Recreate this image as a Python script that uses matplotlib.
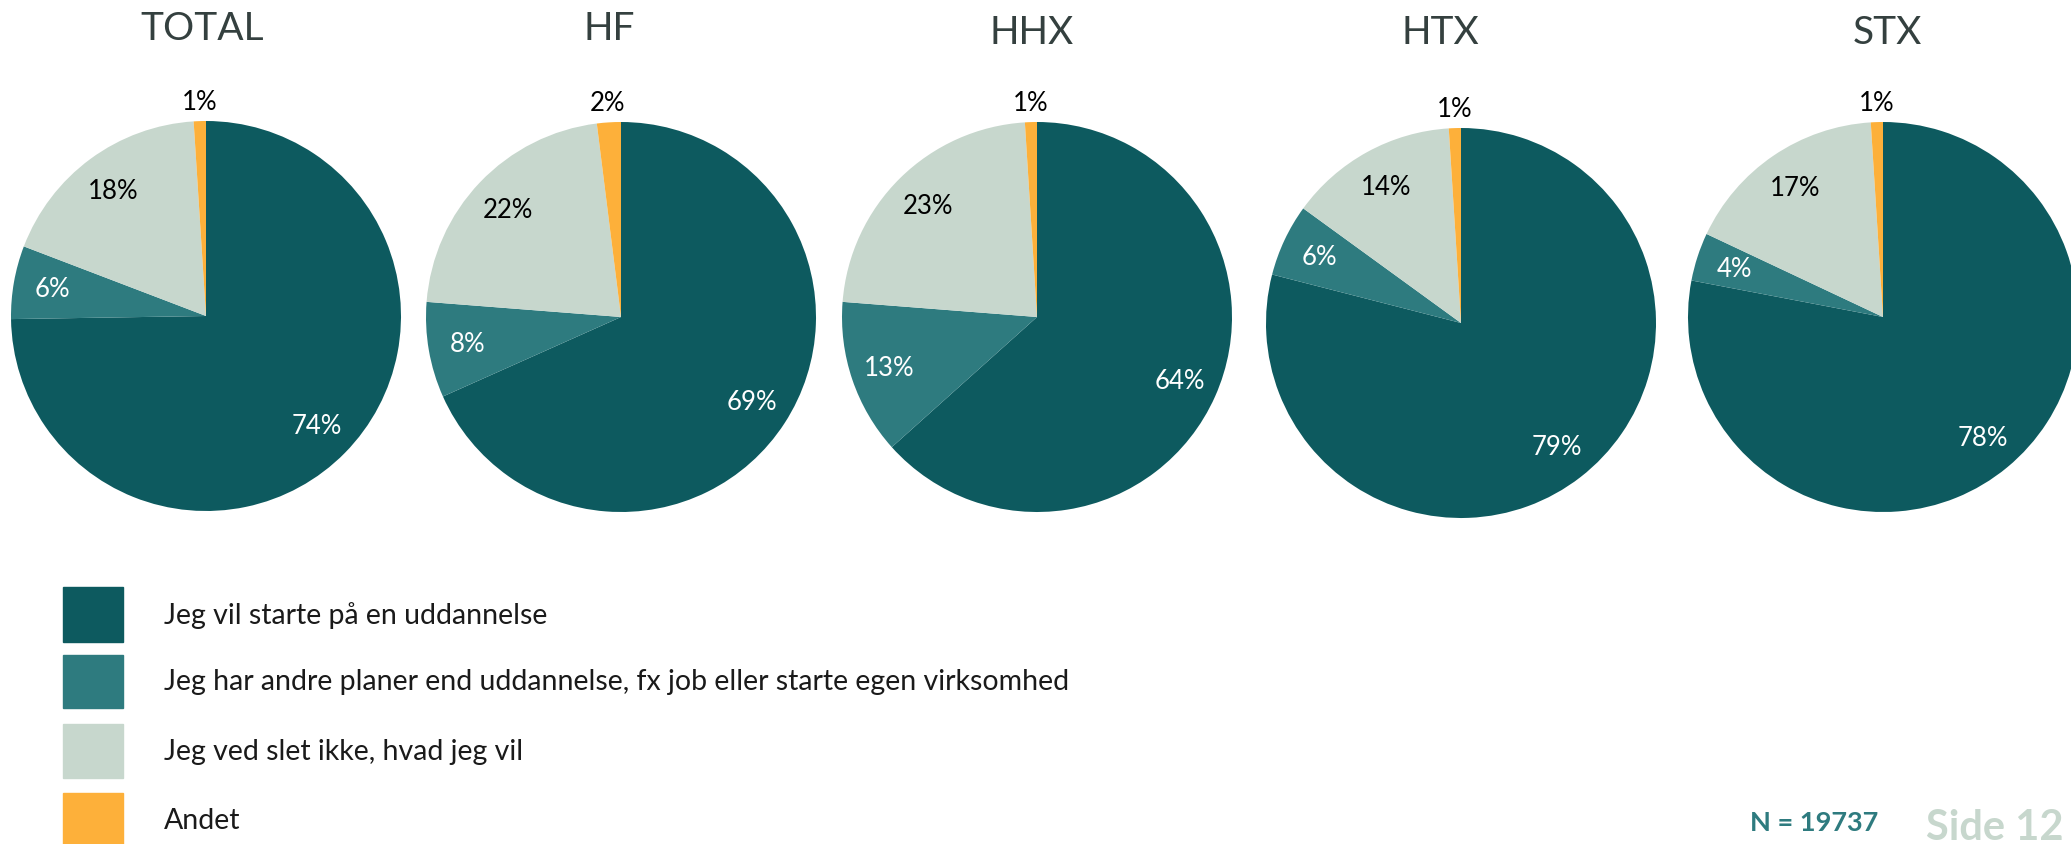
import numpy as np
import matplotlib
matplotlib.use("Agg")
import matplotlib.pyplot as plt

plt.rcParams["font.family"] = ["Lato", "DejaVu Sans"]

groups = ["TOTAL", "HF", "HHX", "HTX", "STX"]
categories = [
    "Jeg vil starte på en uddannelse",
    "Jeg har andre planer end uddannelse, fx job eller starte egen virksomhed",
    "Jeg ved slet ikke, hvad jeg vil",
    "Andet",
]
values = {
    "TOTAL": [74, 6, 18, 1],
    "HF": [69, 8, 22, 2],
    "HHX": [64, 13, 23, 1],
    "HTX": [79, 6, 14, 1],
    "STX": [78, 4, 17, 1],
}
n_total = 19737
page = 12

colors = ["#0d5a5f", "#2e7b7f", "#c7d7cd", "#fdb03a"]
label_colors = ["white", "white", "black", "black"]

W, H = 2071, 845
fig = plt.figure(figsize=(W / 100, H / 100), dpi=100)

# pie centres in pixels (from top-left), title positions, radius
centres = [(206, 317), (621, 318), (1037, 318), (1461, 324), (1883, 318)]
title_pos = [(202, 29), (609, 29), (1032, 33), (1440, 33), (1887, 33)]
r = 195

for g, (cx, cy), (tx, ty) in zip(groups, centres, title_pos):
    ax = fig.add_axes([(cx - r) / W, 1 - (cy + r) / H, 2 * r / W, 2 * r / H])
    vals = values[g]
    wedges, _ = ax.pie(vals, colors=colors, startangle=90, counterclock=False,
                       radius=1.0, wedgeprops=dict(linewidth=0))
    for w, v, lc in zip(wedges, vals, label_colors):
        mid = np.deg2rad((w.theta1 + w.theta2) / 2)
        d = 0.8 if v >= 3 else 1.1
        ax.text(d * np.cos(mid), d * np.sin(mid), f"{v}%", ha="center", va="center",
                fontsize=18.5, color=lc)
    ax.set_xlim(-1, 1)
    ax.set_ylim(-1, 1)
    ax.set_aspect("equal")
    ax.axis("off")
    fig.text(tx / W, 1 - ty / H, g, ha="center", va="center", fontsize=28,
             color="#34403f")

# legend
box_tops = [588, 656, 725, 794]
box_h = [55, 53, 54, 54]
for c, lab, top, bh in zip(colors, categories, box_tops, box_h):
    fig.patches.append(plt.Rectangle((63 / W, 1 - (top + bh) / H), 60 / W, bh / H,
                                     transform=fig.transFigure, color=c))
    fig.text(164 / W, 1 - (top + bh / 2) / H, lab, ha="left", va="center",
             fontsize=20.5, color="#1a1a1a")

fig.text(1750 / W, 1 - 823 / H, f"N = {n_total}", ha="left", va="center",
         fontsize=19.5, color="#2e7b7f", fontweight="bold")
fig.text(1926 / W, 1 - 828 / H, f"Side {page}", ha="left", va="center",
         fontsize=30, color="#c7d7cd", fontweight="bold")

fig.savefig("out.png", dpi=100)
